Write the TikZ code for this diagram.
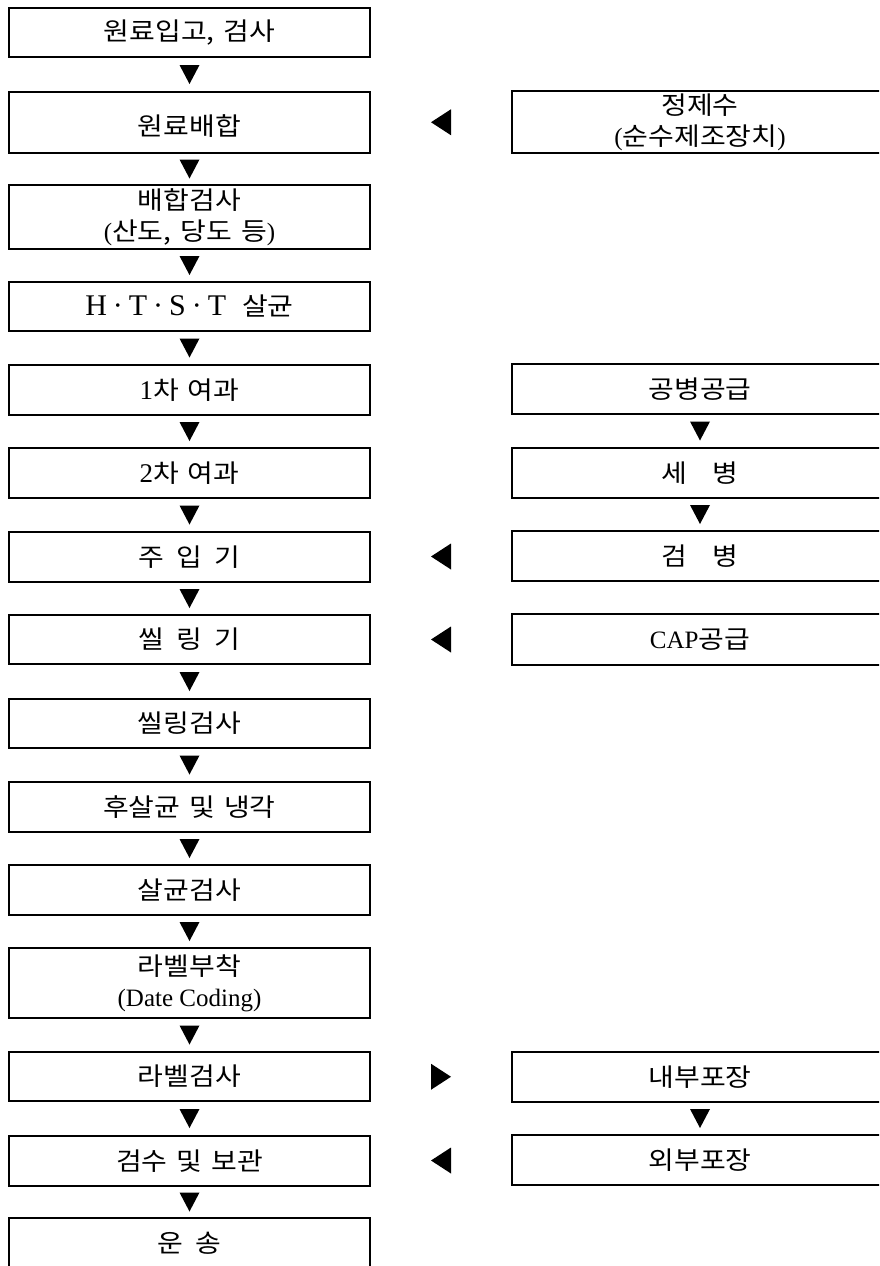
\documentclass[tikz,border=0pt]{standalone}
\usepackage{fontspec}
\setmainfont{Liberation Serif}
\newfontfamily\kr[FakeStretch=1.12]{Noto Sans CJK KR}
\newcommand{\K}[1]{{\kr #1}}
\newcommand{\ws}{\hspace{9pt}}
\usetikzlibrary{calc}
\tikzset{
  box/.style={draw, line width=2.2pt, minimum width=361pt, inner sep=0pt, align=center,
    font=\fontsize{25}{31}\selectfont},
  rbox/.style={box, minimum width=376pt},
}
\newcommand{\dtri}[2]{\fill ($(#1.south)!0.5!(#2.north)$) +(-10,-9.5) -- +(10,-9.5) -- +(0,9.5) -- cycle;}
\newcommand{\ltri}[2]{\fill ($(#1.east)!0.5!(#2.west)$) +(10,-13) -- +(10,13) -- +(-10,0) -- cycle;}
\newcommand{\rtri}[2]{\fill ($(#1.east)!0.5!(#2.west)$) +(-10,-13) -- +(-10,13) -- +(10,0) -- cycle;}
\begin{document}
\begin{tikzpicture}[x=1pt,y=-1pt]
\useasboundingbox (0,0) rectangle (879,1266);
\clip (0,0) rectangle (879,1266);
% left column
\node[box, minimum height=49pt] (n1) at (189.5,32.5) {\K{원료입고,\ws 검사}};
\node[box, minimum height=61pt, text height=31pt, text depth=5pt] (n2) at (189.5,122.5) {\K{원료배합}};
\node[box, minimum height=64pt] (n3) at (189.5,217) {\K{배합검사}\\(\K{산도,\ws 당도\ws 등})};
\node[box, minimum height=49pt] (n4) at (189.5,306.5) {{\fontsize{30}{30}\selectfont H\hspace{6pt}·\hspace{6pt}T\hspace{6pt}·\hspace{6pt}S\hspace{6pt}·\hspace{6pt}T}\hspace{16pt}\K{살균}};
\node[box, minimum height=50pt] (n5) at (189.5,390) {{\fontsize{27}{30}\selectfont 1}\K{차\ws 여과}};
\node[box, minimum height=50pt] (n6) at (189.5,473) {{\fontsize{27}{30}\selectfont 2}\K{차\ws 여과}};
\node[box, minimum height=50pt] (n7) at (189.5,557) {\K{주\hspace{12pt}입\hspace{12pt}기}};
\node[box, minimum height=49pt] (n8) at (189.5,639.5) {\K{씰\hspace{12pt}링\hspace{12pt}기}};
\node[box, minimum height=49pt] (n9) at (189.5,723.5) {\K{씰링검사}};
\node[box, minimum height=50pt] (n10) at (189.5,807) {\K{후살균\ws 및\ws 냉각}};
\node[box, minimum height=50pt] (n11) at (189.5,890) {\K{살균검사}};
\node[box, minimum height=70pt] (n12) at (189.5,983) {\K{라벨부착}\\(Date Coding)};
\node[box, minimum height=49pt] (n13) at (189.5,1076.5) {\K{라벨검사}};
\node[box, minimum height=50pt] (n14) at (189.5,1161) {\K{검수\ws 및\ws 보관}};
\node[box, minimum height=50pt] (n15) at (189.5,1243) {\K{운\hspace{12pt}송}};
% right column
\node[rbox, minimum height=62pt] (r1) at (700,122) {\K{정제수}\\(\K{순수제조장치})};
\node[rbox, minimum height=50pt] (r2) at (700,389) {\K{공병공급}};
\node[rbox, minimum height=50pt] (r3) at (700,473) {\K{세\hspace{25pt}병}};
\node[rbox, minimum height=50pt] (r4) at (700,556) {\K{검\hspace{25pt}병}};
\node[rbox, minimum height=51pt] (r5) at (700,639.5) {CAP\K{공급}};
\node[rbox, minimum height=50pt] (r6) at (700,1077) {\K{내부포장}};
\node[rbox, minimum height=50pt] (r7) at (700,1160) {\K{외부포장}};
% down arrows
\dtri{n1}{n2}
\dtri{n2}{n3}
\dtri{n3}{n4}
\dtri{n4}{n5}
\dtri{n5}{n6}
\dtri{n6}{n7}
\dtri{n7}{n8}
\dtri{n8}{n9}
\dtri{n9}{n10}
\dtri{n10}{n11}
\dtri{n11}{n12}
\dtri{n12}{n13}
\dtri{n13}{n14}
\dtri{n14}{n15}
\dtri{r2}{r3}
\dtri{r3}{r4}
\dtri{r6}{r7}
% side arrows
\ltri{n2}{r1}
\ltri{n7}{r4}
\ltri{n8}{r5}
\rtri{n13}{r6}
\ltri{n14}{r7}
\end{tikzpicture}
\end{document}
